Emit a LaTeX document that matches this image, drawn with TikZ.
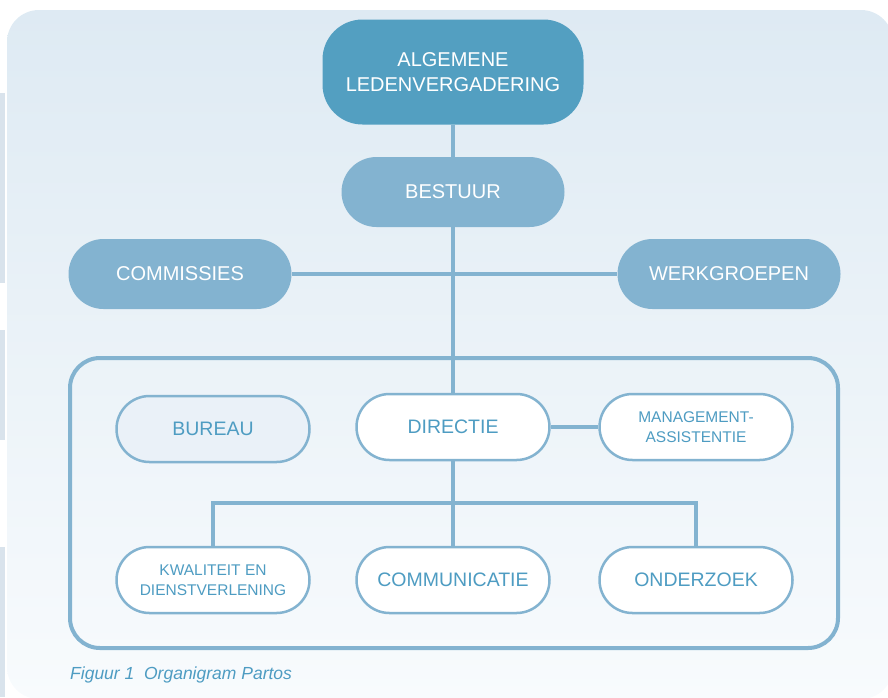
\documentclass[tikz,border=0pt]{standalone}
\usepackage{fontspec}
\setmainfont{Liberation Sans}
\definecolor{alvblue}{HTML}{539FC1}
\definecolor{boardblue}{HTML}{83B3D0}
\definecolor{textblue}{HTML}{4E9CC2}
\definecolor{bureaufill}{HTML}{EAF1F8}
\definecolor{bgtop}{HTML}{DEEAF3}
\definecolor{bgbottom}{HTML}{F8FBFD}
\definecolor{stripgray}{HTML}{D9E3EC}

\begin{document}
\begin{tikzpicture}[x=1pt, y=-1pt,
    pill/.style={rectangle, rounded corners=35pt, align=center, inner sep=0pt,
        minimum width=223pt, minimum height=70pt},
    topbox/.style={pill, fill=alvblue, text=white, rounded corners=40pt,
        minimum width=261pt, minimum height=105pt, font=\fontsize{20}{25}\selectfont},
    boardbox/.style={pill, fill=boardblue, text=white, font=\fontsize{20}{25}\selectfont},
    unitbox/.style={pill, draw=boardblue, line width=2.5pt, fill=white, text=textblue,
        rounded corners=33pt, minimum width=193pt, minimum height=66pt,
        font=\fontsize{19.5}{24}\selectfont},
    smallunit/.style={unitbox, font=\fontsize{15.5}{19.5}\selectfont},
    link/.style={draw=boardblue, line width=4pt}]

    \useasboundingbox (0,0) rectangle (888,697);

    % background card
    \begin{scope}
        \clip (0,0) rectangle (888,697);
        \shade[top color=bgtop, bottom color=bgbottom, rounded corners=32pt]
            (7,10) rectangle (893,699);
        \fill[stripgray] (0,93) rectangle (5,283);
        \fill[stripgray] (0,330) rectangle (5,440);
        \fill[stripgray] (0,547) rectangle (5,697);
    \end{scope}

    % office frame
    \draw[link, rounded corners=30pt] (70,358) rectangle (838,648);

    % governing bodies
    \node[topbox] (alv) at (453,72) {ALGEMENE\\LEDENVERGADERING};
    \node[boardbox] (bestuur) at (453,192) {BESTUUR};
    \node[boardbox] (commissies) at (180,274) {COMMISSIES};
    \node[boardbox] (werkgroepen) at (729,274) {WERKGROEPEN};

    % office units
    \node[unitbox, fill=bureaufill] (bureau) at (213,429) {BUREAU};
    \node[unitbox] (directie) at (453,427) {DIRECTIE};
    \node[smallunit] (assistentie) at (696,427) {MANAGEMENT-\\ASSISTENTIE};
    \node[smallunit] (kwaliteit) at (213,580) {KWALITEIT EN\\DIENSTVERLENING};
    \node[unitbox] (communicatie) at (453,580) {COMMUNICATIE};
    \node[unitbox] (onderzoek) at (696,580) {ONDERZOEK};

    % connectors
    \draw[link] (alv) -- (bestuur);
    \draw[link] (bestuur) -- (directie);
    \draw[link] (commissies) -- (werkgroepen);
    \draw[link] (directie) -- (assistentie);
    \draw[link] (directie) -- (communicatie);
    \coordinate (split) at (453,503);
    \draw[link] (kwaliteit) |- (split) -| (onderzoek);

    % caption
    \node[anchor=base west, inner sep=0pt, text=textblue,
        font=\fontsize{17.5}{20}\selectfont\itshape] (caption) at (70,679)
        {Figuur 1\ \ Organigram Partos};
\end{tikzpicture}
\end{document}
